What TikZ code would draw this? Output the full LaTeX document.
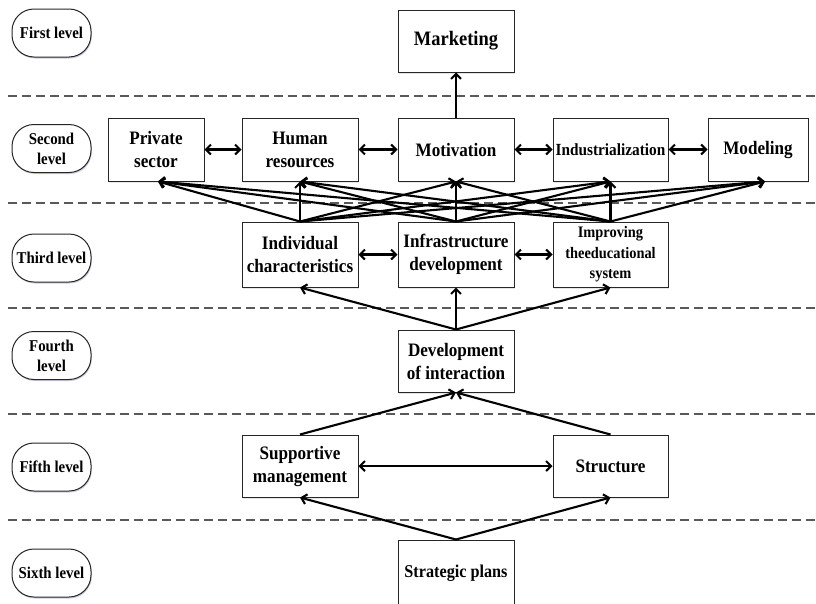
\documentclass[tikz,border=0pt]{standalone}
\usepackage{fontspec}
\setmainfont{Liberation Serif}[FakeStretch=0.9]
\usetikzlibrary{arrows.meta,shadows,calc}
\begin{document}
\begin{tikzpicture}[x=1pt,y=-1pt,
  box/.style={draw=black!85,line width=1pt,fill=white,inner sep=0pt,align=center,
    font=\bfseries\fontsize{19}{23}\selectfont,
    drop shadow={shadow xshift=1pt,shadow yshift=-1.5pt,opacity=0.2}},
  lvl/.style={draw=black!85,line width=1pt,fill=white,rounded corners=22pt,inner sep=0pt,
    minimum width=79pt,minimum height=48pt,align=center,
    font=\bfseries\fontsize{16.5}{20}\selectfont,
    drop shadow={shadow xshift=0.8pt,shadow yshift=-1.5pt,opacity=0.2,fill=blue!40!black}},
  sep/.style={dash pattern=on 9pt off 5pt,line width=1.4pt,draw=black!65},
  arr/.style={line width=2.1pt,-{Straight Barb[length=5pt,width=10pt]}},
  darr/.style={line width=2.1pt,{Straight Barb[length=5pt,width=10pt]}-{Straight Barb[length=5pt,width=10pt]}}
]
\useasboundingbox (0,0) rectangle (816,603);
\clip (0,0) rectangle (816,603);

% separators
\coordinate (s1a) at (8,96);  \coordinate (s1b) at (816,96);
\coordinate (s2a) at (8,203); \coordinate (s2b) at (816,203);
\coordinate (s3a) at (8,308); \coordinate (s3b) at (816,308);
\coordinate (s4a) at (8,414); \coordinate (s4b) at (816,414);
\coordinate (s5a) at (8,520); \coordinate (s5b) at (816,520);
\foreach \i in {1,...,5} \draw[sep] (s\i a) -- (s\i b);

% level labels
\node[lvl] (l1) at (51.5,33) {First level};
\node[lvl] (l2) at (51.5,148.5) {Second\\level};
\node[lvl] (l3) at (51.5,258) {Third level};
\node[lvl] (l4) at (51.5,355.5) {Fourth\\level};
\node[lvl] (l5) at (51.5,467) {Fifth level};
\node[lvl] (l6) at (51.5,573) {Sixth level};

% first level
\node[box,minimum width=116pt,minimum height=62pt,font=\bfseries\fontsize{20.5}{24}\selectfont] (mkt) at (456,41) {Marketing};

% second level
\node[box,minimum width=96pt,minimum height=63pt] (priv) at (156,149.5) {Private\\sector};
\node[box,minimum width=116pt,minimum height=63pt] (hum) at (300,149.5) {Human\\resources};
\node[box,minimum width=116pt,minimum height=63pt] (mot) at (456,149.5) {Motivation};
\node[box,minimum width=115pt,minimum height=63pt,font=\bfseries\fontsize{17}{20}\selectfont] (ind) at (610.5,149.5) {Industrialization};
\node[box,minimum width=100pt,minimum height=63pt] (mod) at (758,149.5) {Modeling};

% third level
\node[box,minimum width=116pt,minimum height=65pt] (indiv) at (300,254.5) {Individual\\characteristics};
\node[box,minimum width=116pt,minimum height=65pt] (infra) at (456,254.5) {Infrastructure\\development};
\node[box,minimum width=115pt,minimum height=65pt,font=\bfseries\fontsize{16}{20.5}\selectfont] (impr) at (610.5,254.5) {Improving\\theeducational\\system};

% fourth level
\node[box,minimum width=116pt,minimum height=62pt] (dev) at (456,361) {Development\\of interaction};

% fifth level
\node[box,minimum width=116pt,minimum height=62pt] (sup) at (300,466) {Supportive\\management};
\node[box,minimum width=115pt,minimum height=62pt] (str) at (610.5,466) {Structure};

% sixth level
\node[box,minimum width=116pt,minimum height=66pt,font=\bfseries\fontsize{18}{22}\selectfont] (strat) at (456,573) {Strategic plans};

% connectors level 2 -> 1
\draw[arr] (mot.north) -- (mkt.south);

% horizontal double arrows
\draw[darr] (priv.east) -- (hum.west);
\draw[darr] (hum.east) -- (mot.west);
\draw[darr] (mot.east) -- (ind.west);
\draw[darr] (ind.east) -- (mod.west);
\draw[darr] (indiv.east) -- (infra.west);
\draw[darr] (infra.east) -- (impr.west);
\draw[darr] (sup.east) -- (str.west);

% level 3 -> level 2 crossing arrows
\coordinate (tpriv) at ($(priv.south)+(2,0)$);
\coordinate (tmod) at ($(mod.south)+(7,0)$);
\foreach \s in {indiv,infra,impr} {
  \draw[arr] (\s.north) -- (tpriv);
  \draw[arr] (\s.north) -- (hum.south);
  \draw[arr] (\s.north) -- (mot.south);
  \draw[arr] (\s.north) -- (ind.south);
  \draw[arr] (\s.north) -- (tmod);
}

% level 4 -> level 3
\draw[arr] (dev.north) -- (indiv.south);
\draw[arr] (dev.north) -- (infra.south);
\draw[arr] (dev.north) -- (impr.south);

% level 5 -> level 4
\draw[arr] (sup.north) -- (dev.south);
\draw[arr] (str.north) -- (dev.south);

% level 6 -> level 5
\draw[arr] (strat.north) -- (sup.south);
\draw[arr] (strat.north) -- (str.south);
\end{tikzpicture}
\end{document}
